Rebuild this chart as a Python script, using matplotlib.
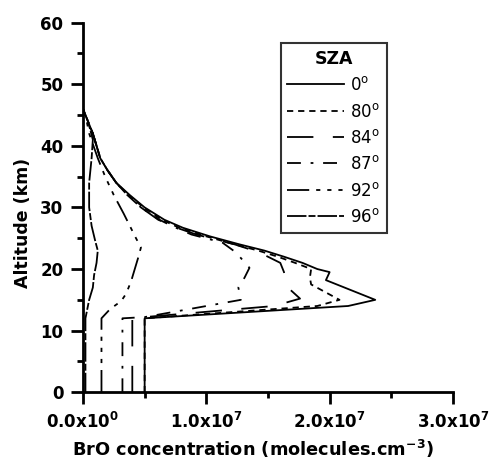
import matplotlib
matplotlib.use('Agg')
from matplotlib import pyplot as plt
from matplotlib.ticker import MultipleLocator, FixedLocator

# BrO profiles, concentration in units of 1e7 molecules/cm3, altitude in km
alt_0 = [0, 12, 14, 15, 17, 18.2, 19.5, 20, 21, 22, 23, 24, 25.3, 26.7, 28, 30, 32, 34, 36, 38, 40, 42, 44, 46]
bro_0 = [0.50, 0.50, 2.15, 2.37, 2.12, 1.97, 2.00, 1.90, 1.78, 1.63, 1.47, 1.27, 1.03, 0.81, 0.66, 0.50, 0.38, 0.27, 0.20, 0.14, 0.11, 0.08, 0.04, 0.0]

alt_80 = [0, 12, 14, 15, 17.5, 18.6, 20, 21, 22, 23, 24, 25.3, 26.7, 28, 30, 32, 34, 36, 38, 40, 42, 44, 46]
bro_80 = [0.50, 0.50, 1.90, 2.08, 1.85, 1.84, 1.85, 1.72, 1.58, 1.42, 1.23, 1.00, 0.78, 0.64, 0.49, 0.37, 0.27, 0.20, 0.14, 0.11, 0.08, 0.04, 0.0]

alt_84 = [0, 12, 12.2, 14, 15.2, 17.2, 18.3, 19.5, 21, 22.7, 24, 25.6, 26.7, 28, 30, 32, 34, 36, 38, 40, 42, 44, 46]
bro_84 = [0.40, 0.40, 0.50, 1.55, 1.76, 1.65, 1.64, 1.63, 1.60, 1.43, 1.23, 0.92, 0.76, 0.61, 0.47, 0.36, 0.27, 0.20, 0.14, 0.11, 0.08, 0.04, 0.0]

alt_87 = [0, 12, 12.2, 15, 17, 18.6, 20.2, 22.7, 24.3, 25.6, 27, 28, 30, 32, 34, 36, 38, 40, 42, 44, 46]
bro_87 = [0.32, 0.32, 0.50, 1.28, 1.26, 1.31, 1.35, 1.24, 1.13, 0.88, 0.72, 0.62, 0.47, 0.36, 0.27, 0.20, 0.14, 0.11, 0.08, 0.04, 0.0]

alt_92 = [0, 12, 13.5, 14.8, 16, 18, 20, 22, 23.5, 25, 27, 29, 32, 35, 38, 42, 44, 46]
bro_92 = [0.15, 0.15, 0.22, 0.31, 0.35, 0.39, 0.42, 0.45, 0.47, 0.43, 0.38, 0.33, 0.25, 0.18, 0.12, 0.05, 0.03, 0.0]

alt_96 = [0, 12, 13, 15, 17, 19, 21, 23, 24.5, 27, 30, 34, 38, 41, 44, 46]
bro_96 = [0.02, 0.02, 0.03, 0.05, 0.08, 0.09, 0.11, 0.12, 0.10, 0.07, 0.05, 0.05, 0.07, 0.08, 0.04, 0.0]

sza_labels = ['0', '80', '84', '87', '92', '96']

plt.rcParams['font.family'] = 'DejaVu Sans'
plt.rcParams['mathtext.fontset'] = 'dejavusans'
plt.rcParams['lines.scale_dashes'] = False

fig = plt.figure(figsize=(4.91, 4.62), dpi=100)
ax = fig.add_axes([0.169, 0.151, 0.7535, 0.8])

profiles = [(alt_0, bro_0, '-'),
            (alt_80, bro_80, (0, (4.5, 3.5))),
            (alt_84, bro_84, (0, (19, 14))),
            (alt_87, bro_87, (0, (10, 7, 2, 7))),
            (alt_92, bro_92, (0, (16, 5, 3, 5, 3, 5, 3, 5))),
            (alt_96, bro_96, (0, (14, 1.5, 5, 1.5)))]
for (a, b, ls), lab in zip(profiles, sza_labels):
    ax.plot([v * 1e7 for v in b], a, color='black', lw=1.3, linestyle=ls,
            label=lab + r'$^{\mathrm{o}}$')

ax.set_xlim(0, 3e7)
ax.set_ylim(0, 60)
ax.spines['top'].set_visible(False), ax.spines['right'].set_visible(False)
for s in ['left', 'bottom']:
    ax.spines[s].set_linewidth(2)
ax.xaxis.set_major_locator(FixedLocator([0, 1e7, 2e7, 3e7]))
ax.xaxis.set_minor_locator(MultipleLocator(0.5e7))
ax.yaxis.set_major_locator(MultipleLocator(10))
ax.yaxis.set_minor_locator(MultipleLocator(5))
ax.tick_params(which='major', direction='out', length=8.6, width=2, labelsize=12, pad=5.5)
ax.tick_params(which='minor', direction='out', length=4.5, width=2)
ax.set_xticklabels([r'$\mathbf{0.0x10^{0}}$', r'$\mathbf{1.0x10^{7}}$',
                    r'$\mathbf{2.0x10^{7}}$', r'$\mathbf{3.0x10^{7}}$'])
for t in ax.get_yticklabels():
    t.set_fontweight('bold')

ax.set_xlabel(r'BrO concentration (molecules.cm$^{\mathbf{-3}}$)', fontsize=12.8,
              fontweight='bold', va='baseline')
ax.xaxis.set_label_coords(0.458, -0.173)
ax.set_ylabel('Altitude (km)', fontsize=12.5, fontweight='bold')
ax.yaxis.set_label_coords(-0.138, 0.457)

leg = ax.legend(loc='upper left', bbox_to_anchor=(0.5717, 0.9063),
                bbox_transform=fig.transFigure, borderaxespad=0, title='SZA',
                fontsize=12, frameon=True, fancybox=False, edgecolor='black',
                handlelength=3.4, handletextpad=0.36, labelspacing=0.5,
                borderpad=0.4)
leg.get_frame().set_linewidth(1.5)
leg.get_title().set_fontweight('bold')
leg.get_title().set_fontsize(12.5)

fig.savefig('out.png', dpi=100)
